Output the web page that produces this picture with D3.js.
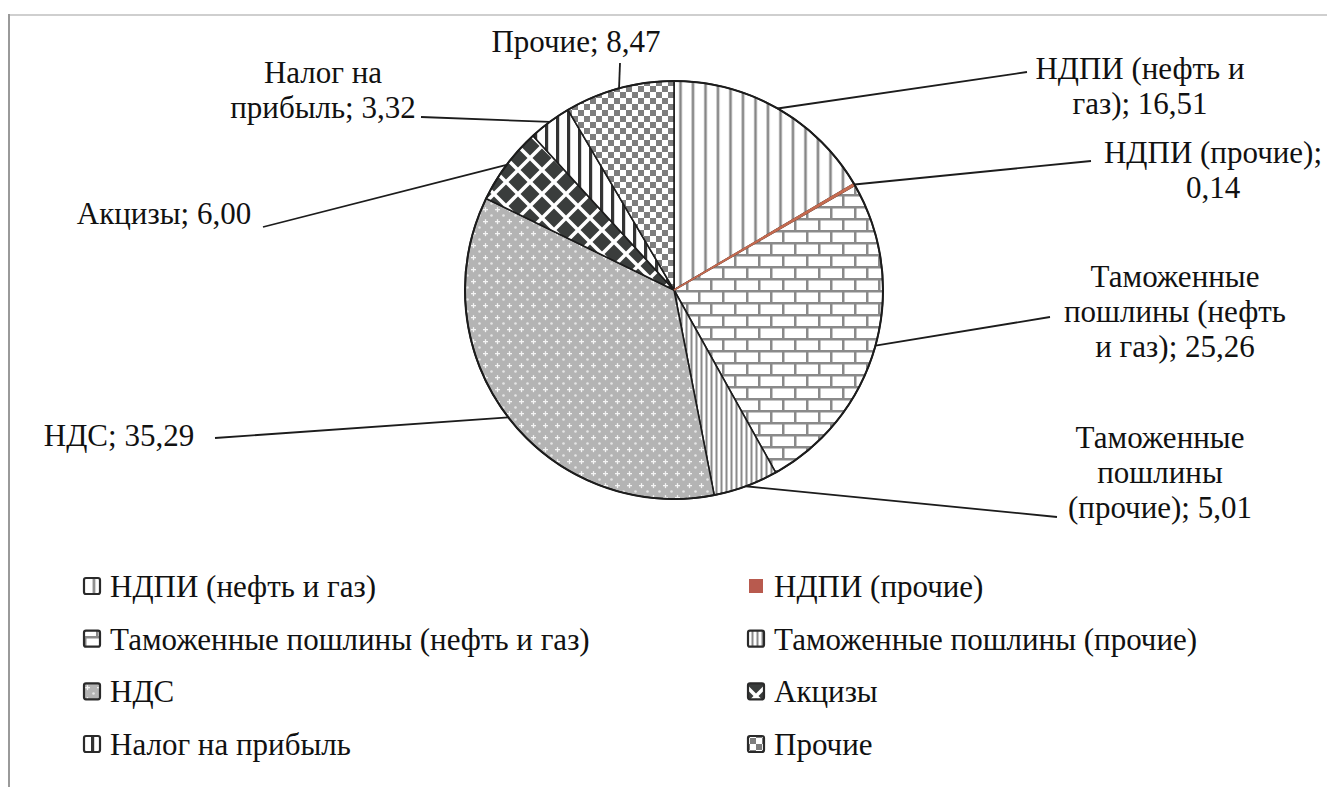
<!DOCTYPE html>
<html><head><meta charset="utf-8">
<script src="https://cdn.jsdelivr.net/npm/d3@7"></script>
<style>
html,body{margin:0;padding:0;background:#fff;}
svg{display:block;}
</style></head>
<body>
<svg id="chart" width="1327" height="787"></svg>
<script>
// ---- data ----
const categories = ["НДПИ (нефть и газ)", "НДПИ (прочие)", "Таможенные пошлины (нефть и газ)",
  "Таможенные пошлины (прочие)", "НДС", "Акцизы", "Налог на прибыль", "Прочие"];
const values = [16.51, 0.14, 25.26, 5.01, 35.29, 6.00, 3.32, 8.47];
// label text lines (value is appended to the last line)
const labelHeads = [["НДПИ (нефть и", "газ);"], ["НДПИ (прочие);", ""], ["Таможенные", "пошлины (нефть", "и газ);"],
  ["Таможенные", "пошлины", "(прочие);"], ["НДС;"], ["Акцизы;"], ["Налог на", "прибыль;"], ["Прочие;"]];

// ---- layout ----
const FONT = "'Liberation Serif', 'Times New Roman', 'Liberation Sans', sans-serif";
const FS = 31;
const cx = 674, cy = 290, R = 209;
const labelPos = [ // centre x, first baseline, leader outer end
  {x:1140, y:79, lx:1027, ly:72},
  {x:1213, y:163, lx:1091, ly:161},
  {x:1175, y:287, lx:1050, ly:317},
  {x:1160, y:448, lx:1057, ly:517},
  {x:119, y:446, lx:215, ly:438},
  {x:164, y:224, lx:263, ly:227},
  {x:323, y:83, lx:421, ly:117},
  {x:576, y:52, lx:620, ly:63}
];
const lineH = 35;
const fmt = v => d3.format(".2f")(v).replace(".", ",");

const svg = d3.select("#chart");
const defs = svg.append("defs");

function pat(id, w, h, bg) {
  const p = defs.append("pattern").attr("id", id).attr("patternUnits", "userSpaceOnUse")
    .attr("width", w).attr("height", h);
  p.append("rect").attr("width", w).attr("height", h).attr("fill", bg);
  return p;
}
let p;
p = pat("p0", 12.5, 12, "#fff");
p.append("rect").attr("x", 5).attr("y", 0).attr("width", 3).attr("height", 12).attr("fill", "#a8a8a8");
p.append("rect").attr("x", 5.8).attr("y", 0).attr("width", 1.4).attr("height", 12).attr("fill", "#808080");

p = pat("p2", 24, 24, "#fff");
p.append("rect").attr("x", 0).attr("y", 0).attr("width", 24).attr("height", 2.5).attr("fill", "#8a8a8a");
p.append("rect").attr("x", 0).attr("y", 12).attr("width", 24).attr("height", 2.5).attr("fill", "#8a8a8a");
p.append("rect").attr("x", 0).attr("y", 0).attr("width", 2.5).attr("height", 12).attr("fill", "#8a8a8a");
p.append("rect").attr("x", 12).attr("y", 12).attr("width", 2.5).attr("height", 12).attr("fill", "#8a8a8a");

p = pat("p3", 5, 10, "#fff");
p.append("rect").attr("x", 1.5).attr("y", 0).attr("width", 2).attr("height", 10).attr("fill", "#8a8a8a");

p = pat("p4", 12, 12, "#b4b4b4");
p.append("rect").attr("x", 1).attr("y", 3).attr("width", 5).attr("height", 1.3).attr("fill", "#f4f4f4");
p.append("rect").attr("x", 2.85).attr("y", 1.15).attr("width", 1.3).attr("height", 5).attr("fill", "#f4f4f4");
p.append("circle").attr("cx", 9.5).attr("cy", 9.5).attr("r", 1.3).attr("fill", "#e6e6e6");

p = pat("p5", 24, 24, "#fff");
[[0,0],[24,0],[0,24],[24,24],[12,12]].forEach(([x,y]) => {
  p.append("path").attr("d", `M${x},${y-9.5}L${x+9.5},${y}L${x},${y+9.5}L${x-9.5},${y}Z`).attr("fill", "#3a3d3c");
});

p = pat("p6", 11, 10, "#fff");
p.append("rect").attr("x", 3).attr("y", 0).attr("width", 3.2).attr("height", 10).attr("fill", "#333");

p = pat("p7", 12, 12, "#fff");
p.append("rect").attr("x", 0).attr("y", 0).attr("width", 6).attr("height", 6).attr("fill", "#7e7e7e");
p.append("rect").attr("x", 6).attr("y", 6).attr("width", 6).attr("height", 6).attr("fill", "#7e7e7e");

const fills = ["url(#p0)", "#b85a4e", "url(#p2)", "url(#p3)", "url(#p4)", "url(#p5)", "url(#p6)", "url(#p7)"];

// frame
svg.append("line").attr("x1", 9).attr("y1", 15).attr("x2", 1327).attr("y2", 15)
  .attr("stroke", "#cfcfcf").attr("stroke-width", 2);
svg.append("line").attr("x1", 9).attr("y1", 14).attr("x2", 9).attr("y2", 787)
  .attr("stroke", "#9a9a9a").attr("stroke-width", 2);

// pie
const data = categories.map((c, i) => ({c, v: values[i], i}));
const pie = d3.pie().value(d => d.v).sort(null);
const arcs = pie(data);
const arc = d3.arc().innerRadius(0).outerRadius(R);
const g = svg.append("g").attr("transform", `translate(${cx},${cy})`);
g.selectAll("path.slice").data(arcs).join("path").attr("class", "slice")
  .attr("d", arc)
  .attr("fill", d => fills[d.data.i])
  .attr("stroke", d => d.data.i === 1 ? "#c46a50" : "#1c1c1c")
  .attr("stroke-width", d => d.data.i === 1 ? 1.2 : 1.6)
  .attr("stroke-linejoin", "round");
g.append("path").datum(arcs[1]).attr("d", arc).attr("fill", "#d07a5a").attr("stroke", "#c46a50").attr("stroke-width", 1.5);
g.append("circle").attr("r", R).attr("fill", "none").attr("stroke", "#1c1c1c").attr("stroke-width", 2);

// leaders
const outer = d3.arc().innerRadius(R).outerRadius(R);
arcs.forEach((d, i) => {
  const [ox, oy] = outer.centroid(d);
  svg.append("line")
    .attr("x1", cx + ox).attr("y1", cy + oy)
    .attr("x2", labelPos[i].lx).attr("y2", labelPos[i].ly)
    .attr("stroke", "#1c1c1c").attr("stroke-width", 1.8);
});

// labels
arcs.forEach((d, i) => {
  const lines = labelHeads[i].slice();
  const last = lines.length - 1;
  lines[last] = (lines[last] ? lines[last] + " " : "") + fmt(values[i]);
  const t = svg.append("text").attr("text-anchor", "middle").attr("font-size", FS)
    .attr("font-family", FONT).attr("fill", "#111");
  lines.forEach((ln, k) => {
    t.append("tspan").attr("x", labelPos[i].x).attr("y", labelPos[i].y + k * lineH).text(ln);
  });
});

// legend
const colX = d3.scaleOrdinal().domain([0, 1]).range([84, 748]);
const rowY = d3.scaleLinear().domain([0, 3]).range([586, 744]);
const lg = svg.append("g");
categories.forEach((c, i) => {
  const x = colX(i % 2), y = rowY(Math.floor(i / 2));
  if (i === 1) {
    lg.append("rect").attr("x", x + 1).attr("y", y - 7).attr("width", 14).attr("height", 14).attr("fill", "#b85a4e");
  } else {
    lg.append("rect").attr("x", x).attr("y", y - 8).attr("width", 16).attr("height", 16).attr("rx", 2)
      .attr("fill", fills[i]).attr("stroke", "#2a2a2a").attr("stroke-width", 2.2);
  }
  lg.append("text").attr("x", x + 26).attr("y", y + 11).attr("font-size", FS)
    .attr("font-family", FONT).attr("fill", "#111").text(c);
});
</script>
</body></html>
